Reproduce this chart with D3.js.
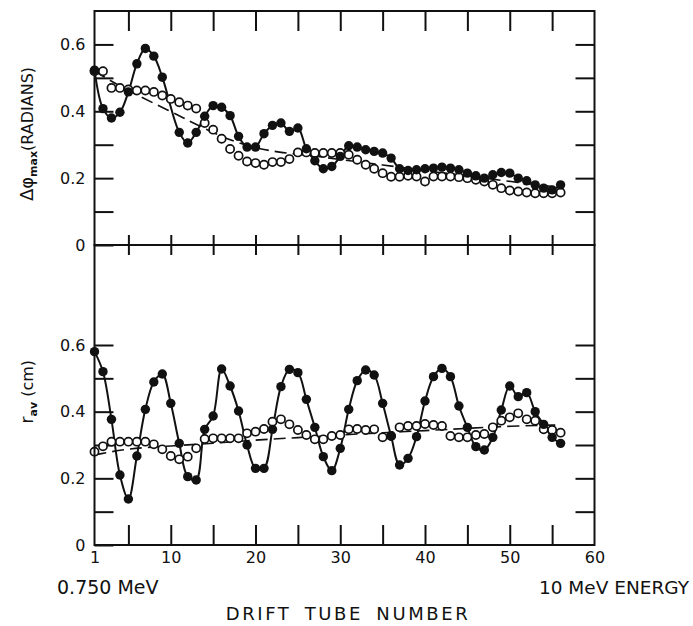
<!DOCTYPE html>
<html>
<head>
<meta charset="utf-8">
<script src="https://cdn.jsdelivr.net/npm/d3@7"></script>
<style>
  body { margin: 0; background: #fff; }
  svg text { font-family: "DejaVu Sans", sans-serif; fill: #111; }
</style>
</head>
<body>
<div id="chart"></div>
<script>
// drift tube numbers 1..56
const tubes = d3.range(1, 57);

// top panel: max phase spread (radians)
const phiFilled = [
  0.523, 0.408, 0.380, 0.397, 0.458, 0.542, 0.588, 0.565, 0.502, null,
  0.337, 0.305, 0.337, 0.385, 0.417, 0.412, 0.387, 0.325, 0.293, 0.293,
  0.333, 0.358, 0.365, 0.340, 0.350, 0.288, 0.252, 0.228, 0.235, 0.265,
  0.297, 0.293, 0.285, 0.280, 0.275, 0.260, 0.228, 0.223, 0.225, 0.228,
  0.230, 0.233, 0.230, 0.225, 0.215, 0.207, 0.200, 0.210, 0.217, 0.215,
  0.200, 0.192, 0.180, 0.170, 0.165, 0.180
];
const phiOpen = [
  0.520, 0.520, 0.470, 0.470, 0.465, 0.462, 0.462, 0.458, 0.447, 0.437,
  0.427, 0.417, 0.408, 0.365, 0.345, 0.318, 0.287, 0.267, 0.250, 0.245,
  0.240, 0.248, 0.248, 0.257, 0.277, 0.277, 0.275, 0.275, 0.275, 0.275,
  0.270, 0.255, 0.240, 0.228, 0.215, 0.204, 0.204, 0.207, 0.205, 0.190,
  0.205, 0.205, 0.205, 0.203, 0.200, 0.195, 0.190, 0.180, 0.170, 0.163,
  0.160, 0.157, 0.155, 0.155, 0.155, 0.157
];
const phiDashTubes = [1, 5, 10, 13, 18, 23, 27, 30, 35, 40, 45, 50, 56];
const phiDashValues = [0.52, 0.46, 0.40, 0.36, 0.30, 0.275, 0.267, 0.255, 0.24, 0.222, 0.207, 0.19, 0.172];

// bottom panel: average radius (cm)
const rFilled = [
  0.580, 0.520, 0.377, 0.210, 0.138, 0.267, 0.407, 0.489, 0.513, 0.425,
  0.305, 0.205, 0.195, 0.347, 0.387, 0.528, 0.477, 0.402, 0.300, 0.230,
  0.230, 0.347, 0.475, 0.527, 0.517, 0.437, 0.353, 0.265, 0.223, 0.290,
  0.407, 0.493, 0.525, 0.510, 0.425, 0.327, 0.240, 0.260, 0.325, 0.432,
  0.505, 0.530, 0.505, 0.417, 0.353, 0.295, 0.285, 0.323, 0.405, 0.477,
  0.445, 0.457, 0.400, 0.362, 0.323, 0.305
];
const rOpen = [
  0.280, 0.296, 0.310, 0.310, 0.310, 0.310, 0.310, 0.302, 0.287, 0.267,
  0.257, 0.265, 0.290, 0.318, 0.320, 0.320, 0.320, 0.320, 0.335, 0.340,
  0.348, 0.370, 0.377, 0.362, 0.345, 0.330, 0.317, 0.317, 0.327, 0.330,
  0.347, 0.348, 0.345, 0.347, 0.323, 0.327, 0.353, 0.357, 0.357, 0.363,
  0.360, 0.357, 0.327, 0.323, 0.323, 0.330, 0.333, 0.353, 0.373, 0.383,
  0.395, 0.377, 0.373, 0.347, 0.345, 0.337
];
const rDashTubes = [1, 5, 10, 15, 20, 25, 30, 35, 40, 45, 50, 56];
const rDashValues = [0.27, 0.29, 0.297, 0.305, 0.315, 0.322, 0.33, 0.337, 0.343, 0.35, 0.357, 0.36];

const xTickLabels = [1, 10, 20, 30, 40, 50, 60];
const xTickMarks = [5, 10, 15, 20, 25, 30, 35, 40, 45, 50, 55];
const yTickMarks = [0, 0.1, 0.2, 0.3, 0.4, 0.5, 0.6];
const yTickLabels = [0, 0.2, 0.4, 0.6];

const W = 693, H = 626;
const left = 94.5, right = 594.5;
const svg = d3.select('#chart').append('svg')
  .attr('width', W).attr('height', H);

const x = d3.scaleLinear().domain([1, 60]).range([left, right]);
const yPhi = d3.scaleLinear().domain([0, 0.7]).range([245, 11]);
const yR = d3.scaleLinear().domain([0, 0.9]).range([545, 245]);

const fmt = d => yTickLabels.includes(d) ? (d === 0 ? '0' : d.toFixed(1)) : '';

function styleAxis(g) {
  g.select('.domain').remove();
  g.selectAll('.tick line').attr('stroke', '#111').attr('stroke-width', 2);
  g.selectAll('.tick text').style('font-size', '16px').attr('fill', '#111');
}

function panel(y, filled, open, dashTubes, dashValues) {
  const top = y.range()[1], bottom = y.range()[0];
  const g = svg.append('g');

  // y ticks, pointing inward on both sides
  g.append('g').attr('transform', `translate(${left},0)`)
    .call(d3.axisLeft(y).tickValues(yTickMarks).tickSize(-19).tickPadding(9).tickFormat(fmt))
    .call(styleAxis);
  g.append('g').attr('transform', `translate(${right},0)`)
    .call(d3.axisRight(y).tickValues(yTickMarks.filter(d => d > 0)).tickSize(-19).tickFormat(''))
    .call(styleAxis);

  // dashed reference curve
  const dash = dashTubes.map((t, i) => [t, dashValues[i]]);
  g.append('path').datum(dash)
    .attr('fill', 'none').attr('stroke', '#111').attr('stroke-width', 1.6)
    .attr('stroke-dasharray', '12,6')
    .attr('d', d3.line().x(d => x(d[0])).y(d => y(d[1])).curve(d3.curveBasis));

  const fPts = tubes.map((t, i) => [t, filled[i]]).filter(d => d[1] != null);
  const oPts = tubes.map((t, i) => [t, open[i]]).filter(d => d[1] != null);

  g.append('path').datum(fPts)
    .attr('fill', 'none').attr('stroke', '#111').attr('stroke-width', 2)
    .attr('d', d3.line().x(d => x(d[0])).y(d => y(d[1])).curve(d3.curveCatmullRom.alpha(0.5)));

  g.append('g').selectAll('circle').data(oPts).join('circle')
    .attr('cx', d => x(d[0])).attr('cy', d => y(d[1])).attr('r', 4.1)
    .attr('fill', '#fff').attr('stroke', '#111').attr('stroke-width', 1.7);

  g.append('g').selectAll('circle').data(fPts).join('circle')
    .attr('cx', d => x(d[0])).attr('cy', d => y(d[1])).attr('r', 4.7)
    .attr('fill', '#111');

  // frame
  g.append('rect').attr('x', left).attr('y', top)
    .attr('width', right - left).attr('height', bottom - top)
    .attr('fill', 'none').attr('stroke', '#111').attr('stroke-width', 2);
  return g;
}

const gTop = panel(yPhi, phiFilled, phiOpen, phiDashTubes, phiDashValues);
const gBot = panel(yR, rFilled, rOpen, rDashTubes, rDashValues);

// x tick marks: top edge, middle (crossing), bottom edge
svg.append('g').attr('transform', `translate(0,${yPhi(0.7)})`)
  .call(d3.axisTop(x).tickValues(xTickMarks).tickSize(-20).tickFormat(''))
  .call(styleAxis);
svg.append('g').attr('transform', `translate(0,${yPhi(0)})`)
  .call(d3.axisBottom(x).tickValues(xTickMarks).tickSize(10).tickFormat(''))
  .call(styleAxis);
svg.append('g').attr('transform', `translate(0,${yPhi(0)})`)
  .call(d3.axisTop(x).tickValues(xTickMarks).tickSize(10).tickFormat(''))
  .call(styleAxis);
svg.append('g').attr('transform', `translate(0,${yR(0)})`)
  .call(d3.axisBottom(x).tickValues(xTickMarks).tickSize(-20).tickFormat(''))
  .call(styleAxis);
svg.append('g').attr('transform', `translate(0,${yR(0)})`)
  .call(d3.axisBottom(x).tickValues(xTickLabels).tickSize(0).tickPadding(7).tickFormat(d3.format('d')))
  .call(styleAxis);

// axis titles
const t1 = svg.append('text')
  .attr('transform', `translate(33,${(yPhi(0.7) + yPhi(0)) / 2 + 6}) rotate(-90)`)
  .attr('text-anchor', 'middle').style('font-size', '16px');
t1.append('tspan').text('Δφ').style('font-size', '18px');
t1.append('tspan').text('max').style('font-size', '11px').attr('dy', 4).style('font-weight', 'bold');
t1.append('tspan').text('(RADIANS)').attr('dy', -4);

const t2 = svg.append('text')
  .attr('transform', `translate(33,${yR(0.46)}) rotate(-90)`)
  .attr('text-anchor', 'middle').style('font-size', '16px');
t2.append('tspan').text('r').style('font-size', '17px');
t2.append('tspan').text('av').style('font-size', '11px').attr('dy', 4).style('font-weight', 'bold');
t2.append('tspan').text(' (cm)').attr('dy', -4);

svg.append('text').attr('x', 57).attr('y', 594)
  .style('font-size', '19px').text('0.750 MeV');
svg.append('text').attr('x', 689).attr('y', 594).attr('text-anchor', 'end')
  .style('font-size', '18.5px').text('10 MeV ENERGY');
svg.append('text').attr('x', 348).attr('y', 620).attr('text-anchor', 'middle')
  .style('font-size', '18px').style('letter-spacing', '2.6px').style('word-spacing', '5px')
  .text('DRIFT TUBE NUMBER');
</script>
</body>
</html>
